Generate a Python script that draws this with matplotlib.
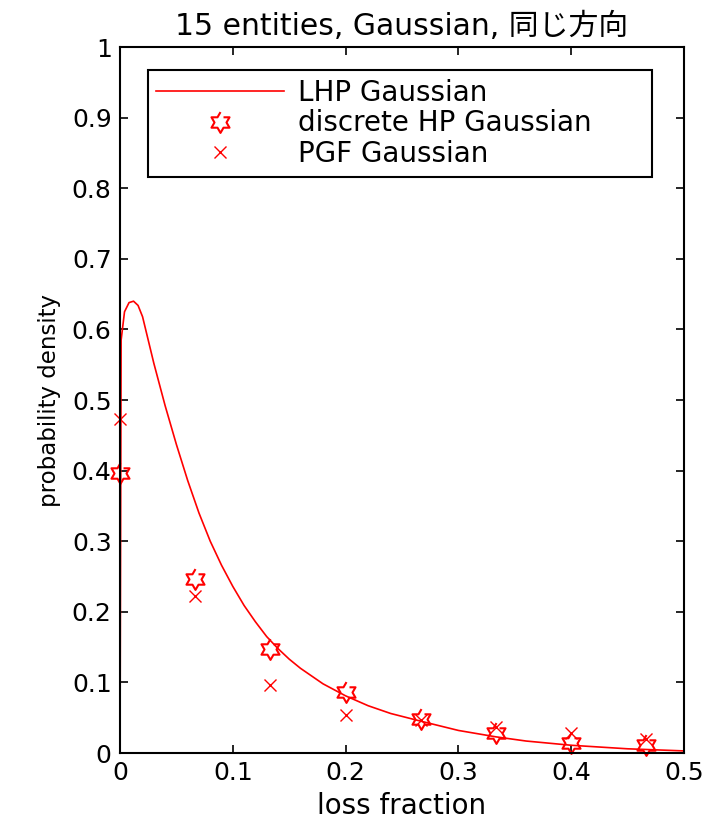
import numpy as np
import matplotlib
matplotlib.use("Agg")
import matplotlib.pyplot as plt
from matplotlib.ticker import FuncFormatter

plt.rcParams['font.family'] = ['DejaVu Sans', 'Noto Sans CJK JP']

# LHP Gaussian density curve
lhp_x = [0, 0.001, 0.004, 0.008, 0.012, 0.016, 0.02, 0.025, 0.03, 0.04, 0.05, 0.06,
         0.07, 0.08, 0.09, 0.10, 0.11, 0.12, 0.13, 0.14, 0.15, 0.16, 0.18, 0.20,
         0.22, 0.24, 0.267, 0.30, 0.333, 0.36, 0.40, 0.45, 0.50]
lhp_y = [0, 0.585, 0.625, 0.638, 0.640, 0.634, 0.618, 0.585, 0.552, 0.492, 0.437, 0.386,
         0.340, 0.300, 0.266, 0.236, 0.209, 0.186, 0.165, 0.148, 0.133, 0.120, 0.098, 0.081,
         0.067, 0.056, 0.045, 0.032, 0.023, 0.017, 0.011, 0.006, 0.003]

# discrete points at k/15
pts_x = [0, 1/15, 2/15, 3/15, 4/15, 5/15, 6/15, 7/15]
hp_y = [0.396, 0.246, 0.147, 0.086, 0.048, 0.029, 0.014, 0.011]
pgf_y = [0.473, 0.222, 0.097, 0.054, 0.047, 0.037, 0.028, 0.020]

title = "15 entities, Gaussian, 同じ方向"
xlabel = "loss fraction"
ylabel = "probability density"
labels = ["LHP Gaussian", "discrete HP Gaussian", "PGF Gaussian"]

fig = plt.figure(figsize=(7.03, 8.22), dpi=100)
ax = fig.add_axes([0.1707, 0.0839, 0.8023, 0.8589])

# hexagram marker
ang = np.pi / 2 + np.arange(12) * np.pi / 6
rad = np.where(np.arange(12) % 2 == 0, 1.0, 0.577)
hexagram = np.column_stack([rad * np.cos(ang), rad * np.sin(ang)])

ax.plot(lhp_x, lhp_y, color="red", lw=1.2, label=labels[0], clip_on=False)
ax.plot(pts_x, hp_y, ls="none", marker=hexagram, ms=15, mfc="none", mec="red",
        mew=1.5, label=labels[1], clip_on=False)
ax.plot(pts_x, pgf_y, ls="none", marker="x", ms=9, mec="red", mew=1.0,
        label=labels[2], clip_on=False)

ax.set_xlim(0, 0.5)
ax.set_ylim(0, 1)
ax.set_xticks(np.arange(0, 0.51, 0.1))
ax.set_yticks(np.arange(0, 1.01, 0.1))
fmt = FuncFormatter(lambda v, p: ("%g" % round(v, 2)))
ax.xaxis.set_major_formatter(fmt)
ax.yaxis.set_major_formatter(fmt)
ax.tick_params(direction="in", length=6, width=1.2, top=True, right=True,
               labelsize=18, pad=6)
for s in ax.spines.values():
    s.set_linewidth(1.5)

ax.set_title(title, fontsize=21.5, pad=9, family=['DejaVu Sans', 'Noto Sans CJK JP'])
ax.set_xlabel(xlabel, fontsize=20, labelpad=5)
ax.set_ylabel(ylabel, fontsize=16.5, labelpad=8)

leg = ax.legend(loc="upper left", bbox_to_anchor=(0.0496, 0.823, 0.8936, 0.144),
                mode="expand", borderaxespad=0,
                fontsize=20, handlelength=4.6, fancybox=False, framealpha=1,
                edgecolor="black", labelspacing=0.1, borderpad=0.3, handletextpad=0.5)
leg.get_frame().set_linewidth(1.5)

fig.savefig("out.png", dpi=100, facecolor="white")
